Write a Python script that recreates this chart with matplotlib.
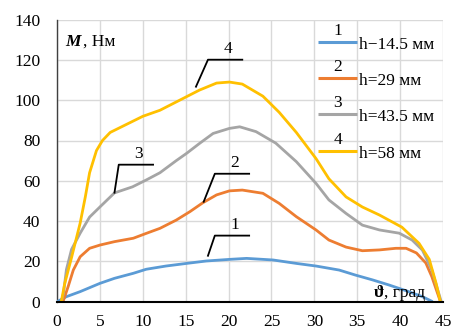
import matplotlib
matplotlib.use("Agg")
import matplotlib.pyplot as plt

# ---- data ----
x4 = [0.5, 0.9, 1.7, 2.7, 3.3, 3.8, 4.6, 5.3, 6.2, 8.1, 10, 12, 14.3, 16.6, 18.6, 20.1, 21.6, 24, 25.9, 27.9, 30.2, 31.7, 33.7, 35.6, 37.6, 40.2, 42.2, 43.4, 44.2, 44.7]
y4 = [0, 9, 22, 39, 52, 64, 75, 80, 84, 88, 92, 95, 100, 105, 108.5, 109, 108, 102, 94, 84, 71, 61, 52, 47, 43, 37, 29, 21, 9, 0]

x3 = [0.5, 0.75, 1.1, 1.7, 2.7, 3.8, 5, 6.7, 8.8, 10.4, 12, 13.9, 15.1, 16.6, 18.2, 20.1, 21.3, 23.2, 25.5, 27.9, 30.2, 31.7, 33.7, 35.6, 37.6, 39.9, 41.4, 42.6, 43.7, 44.5, 44.8]
y3 = [0, 4, 16, 26, 34, 42, 47, 54, 57, 60.4, 64, 70, 73.6, 78.5, 83.5, 86, 86.8, 84.4, 78.7, 69.5, 58.7, 50.5, 43.8, 38, 35.6, 34, 30.6, 25.6, 15.7, 4.2, 0]

x2 = [0.7, 1.3, 1.9, 2.7, 3.8, 5, 6.7, 8.9, 10.4, 12, 13.9, 15.5, 17, 18.6, 20.1, 21.6, 24, 25.9, 27.9, 30.2, 31.7, 33.7, 35.6, 37.6, 39.5, 40.7, 41.9, 43, 43.7, 44.5, 44.7]
y2 = [0, 7.5, 15.7, 22.3, 26.5, 28.1, 29.8, 31.5, 33.9, 36.4, 40.5, 44.7, 49.1, 53, 55, 55.4, 53.8, 48.8, 42.2, 35.6, 30.6, 27.1, 25.3, 25.7, 26.5, 26.5, 24.2, 19.2, 12.4, 2.5, 0]

x1 = [0, 1.1, 2.7, 5, 6.7, 8.9, 10.4, 12.7, 15.1, 17.4, 20.1, 22.1, 25.2, 27.9, 30.2, 32.9, 34.8, 36.8, 38.7, 41, 42.6, 43.8]
y1 = [0, 2.5, 5, 9.1, 11.6, 14.1, 16.1, 17.7, 19, 20.2, 21, 21.5, 20.7, 19, 17.7, 15.7, 13.2, 10.8, 8.3, 5, 2.5, 0]

series_labels = ["h\u221214.5 мм", "h=29 мм", "h=43.5 мм", "h=58 мм"]
series_numbers = ["1", "2", "3", "4"]
colors = ["#5B9BD5", "#ED7D31", "#A5A5A5", "#FFC000"]

xticks = list(range(0, 46, 5))
yticks = list(range(0, 141, 20))

# leader lines (curve number callouts)
lead4_x = [16.2, 17.6, 21.6]; lead4_y = [106.7, 120.1, 120.1]
lead3_x = [6.7, 7.2, 11.2];   lead3_y = [54.1, 68, 68]
lead2_x = [17.1, 18.4, 22.4]; lead2_y = [49.6, 63.5, 63.5]
lead1_x = [17.6, 18.4, 22.4]; lead1_y = [22.8, 32.8, 32.8]

SERIF = ["Liberation Serif", "DejaVu Serif"]
plt.rcParams['font.family'] = SERIF

fig = plt.figure(figsize=(4.53, 3.29), dpi=100)
ax = fig.add_axes([57/453, 1 - 301.7/329, (443-57)/453, (301.7-19.6)/329])

for xs, ys, c in zip([x1, x2, x3, x4], [y1, y2, y3, y4], colors):
    ax.plot(xs, ys, color=c, lw=2.0, solid_capstyle='butt', zorder=3)

ax.set_xlim(0, 45)
ax.set_ylim(0, 140)
ax.set_xticks(xticks)
ax.set_yticks(yticks)
ax.grid(True, color="#D9D9D9", lw=1.0, zorder=0)
ax.set_axisbelow(True)
ax.tick_params(axis='both', length=0, labelsize=12.5)
ax.tick_params(axis='y', pad=12)
ax.tick_params(axis='x', pad=9)
for s in ['top', 'right']:
    ax.spines[s].set_visible(False)
ax.spines['bottom'].set_color('black')
ax.spines['bottom'].set_linewidth(1.5)
ax.spines['bottom'].set_zorder(4)
ax.spines['left'].set_color('#404040')
ax.spines['left'].set_linewidth(1.0)

# leader lines with numbers
for lx, ly, num in zip([lead1_x, lead2_x, lead3_x, lead4_x],
                       [lead1_y, lead2_y, lead3_y, lead4_y], series_numbers):
    ax.plot(lx, ly, color='black', lw=1.3, zorder=4)
    ax.text((lx[1] + lx[2]) / 2 + 0.3, ly[2] + 1.5, num, ha='center', va='bottom',
            fontsize=12.5, zorder=5)

# manual legend
row_y = [0.921, 0.793, 0.665, 0.534]
for yy, c, lab, num in zip(row_y, colors, series_labels, series_numbers):
    ax.plot([0.676, 0.777], [yy, yy], transform=ax.transAxes, color=c, lw=2.2,
            solid_capstyle='butt', zorder=5, clip_on=False)
    ax.text(0.727, yy + 0.012, num, transform=ax.transAxes, ha='center', va='bottom',
            fontsize=12.5, zorder=5)
    ax.text(0.782, yy - 0.012, lab, transform=ax.transAxes, ha='left', va='center',
            fontsize=12.5, zorder=5)

# axis titles inside plot
ax.text(0.021, 0.921, "M", transform=ax.transAxes, ha='left', va='center',
        fontsize=12.5, fontweight='bold', fontstyle='italic')
ax.text(0.068, 0.921, ", Нм", transform=ax.transAxes, ha='left', va='center', fontsize=12.5)

ax.text(0.848, 0.017, "ϑ", transform=ax.transAxes, ha='right', va='baseline',
        fontsize=12.5, fontweight='bold')
ax.text(0.848, 0.017, ", град", transform=ax.transAxes, ha='left', va='baseline',
        fontsize=12.5)

fig.savefig("out.png", dpi=100)
